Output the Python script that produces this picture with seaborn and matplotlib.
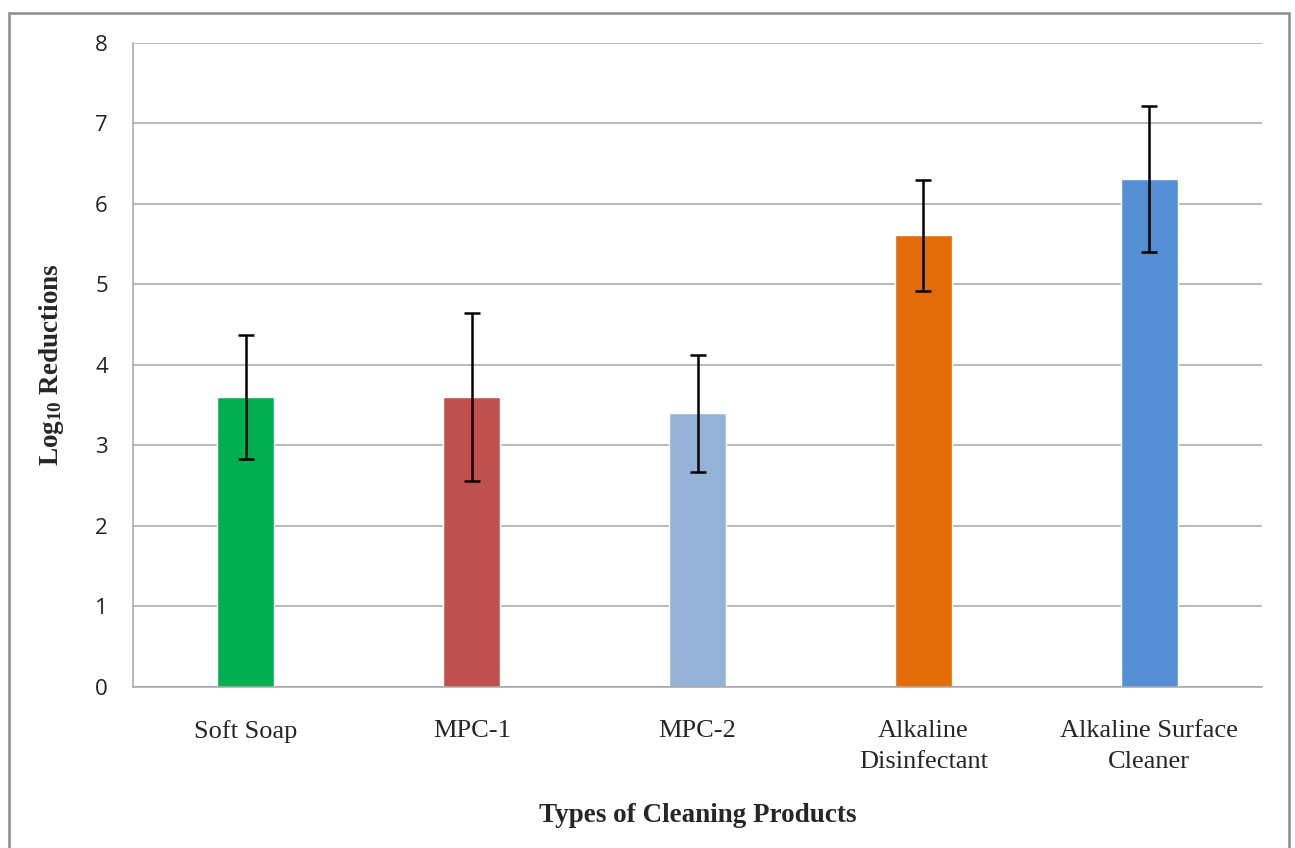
import matplotlib as mpl
import matplotlib.pyplot as plt
import pandas as pd
import seaborn as sns
from matplotlib.patches import Rectangle

products = ["Soft Soap", "MPC-1", "MPC-2", "Alkaline\nDisinfectant", "Alkaline Surface\nCleaner"]
log_reductions = [3.60, 3.60, 3.40, 5.61, 6.31]
errors = [0.77, 1.04, 0.73, 0.69, 0.91]
colors = ["#00B050", "#C0504D", "#95B3D7", "#E36C09", "#558ED5"]
y_ticks = [0, 1, 2, 3, 4, 5, 6, 7, 8]

sns.set_style("white")
mpl.rcParams.update(
    {
        "font.family": ["Liberation Serif", "DejaVu Serif"],
        "mathtext.fontset": "custom",
        "mathtext.rm": "Liberation Serif",
        "mathtext.bf": "Liberation Serif:bold",
        "mathtext.default": "regular",
    }
)

df = pd.DataFrame({"product": products, "log_red": log_reductions})

fig = plt.figure(figsize=(12.95, 8.48), dpi=100)
ax = fig.add_axes([133 / 1295, 0.1899, 1129 / 1295, 0.7594])

sns.barplot(
    data=df,
    x="product",
    y="log_red",
    hue="product",
    palette=colors,
    width=0.253,
    saturation=1,
    legend=False,
    ax=ax,
)

centers = [p.get_x() + p.get_width() / 2 for p in ax.patches]
ax.errorbar(
    centers,
    log_reductions,
    yerr=errors,
    fmt="none",
    ecolor="black",
    elinewidth=1.8,
    capsize=5.8,
    capthick=1.8,
    zorder=5,
)

ax.set_xlim(-0.5, len(products) - 0.5)
ax.set_ylim(0, 8)
ax.set_yticks(y_ticks)
ax.yaxis.grid(True, color="#A6A6A6", lw=1.1)
ax.set_axisbelow(True)
for side in ["top", "right"]:
    ax.spines[side].set_visible(False)
for side in ["left", "bottom"]:
    ax.spines[side].set_color("#A6A6A6")
    ax.spines[side].set_linewidth(1.1)

ax.tick_params(axis="y", length=6, width=1.1, color="#A6A6A6", pad=12, labelsize=16)
ax.tick_params(axis="x", length=0, pad=24, labelsize=19)
for lab in ax.get_yticklabels():
    lab.set_fontfamily(["Open Sans", "DejaVu Sans"])
    lab.set_color("#222222")
for lab in ax.get_xticklabels():
    lab.set_linespacing(1.5)

ax.set_xlabel("Types of Cleaning Products", fontsize=19.5, fontweight="bold", labelpad=22)
ax.set_ylabel(r"Log$_{10}$ Reductions", fontsize=19.5, fontweight="bold", labelpad=21)

fig.patches.append(
    Rectangle((9 / 1295, -0.05), 1280 / 1295, 1.05 - 13 / 848,
              transform=fig.transFigure, fill=False, edgecolor="#8C8C8C", lw=1.8)
)

fig.savefig("out.png", dpi=100)
